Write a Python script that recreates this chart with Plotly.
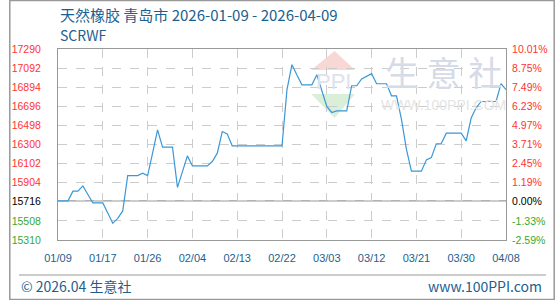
import pandas as pd
import plotly.graph_objects as go

TITLE = "天然橡胶 青岛市 2026-01-09 - 2026-04-09"
SUBTITLE = "SCRWF"
START_DATE = "2026-01-09"
BASE = 15716

PRICES = [
    15716, 15716, 15716, 15816, 15816, 15871, 15780, 15694, 15694, 15694,
    15590, 15483, 15535, 15611, 15978, 15978, 15978, 16002, 15978, 16210,
    16452, 16272, 16272, 16272, 15855, 16020, 16182, 16078, 16078, 16078,
    16078, 16123, 16210, 16434, 16410, 16286, 16286, 16286, 16286, 16286,
    16286, 16286, 16286, 16286, 16286, 16286, 16868, 17127, 17020, 16919,
    16919, 16919, 17023, 16850, 16694, 16632, 16649, 16649, 16649, 16909,
    16909, 16980, 17010, 17034, 16930, 16930, 16930, 16805, 16805, 16560,
    16250, 16023, 16023, 16023, 16141, 16164, 16307, 16310, 16418, 16418,
    16418, 16418, 16338, 16574, 16680, 16746, 16746, 16746, 16746, 16930,
    16868,
]

Y_TICKS = [17290, 17092, 16894, 16696, 16498, 16300, 16102, 15904, 15716, 15508, 15310]
PCT_LABELS = ["10.01%", "8.75%", "7.49%", "6.23%", "4.97%", "3.71%", "2.45%",
              "1.19%", "0.00%", "-1.33%", "-2.59%"]
X_LABELS = ["01/09", "01/17", "01/26", "02/04", "02/13", "02/22", "03/03",
            "03/12", "03/21", "03/30", "04/08"]

RED = "#ff3333"
GREEN = "#33aa33"
BLACK = "#000000"
BLUE_TXT = "#1d5f8e"
LINE = "#3a98d6"
GRID = "#cccccc"
AXIS = "#999999"

dates = pd.date_range(START_DATE, periods=len(PRICES), freq="D")
x_tickvals = list(dates[::9])


def col(v):
    if v > BASE:
        return RED
    if v < BASE:
        return GREEN
    return BLACK


left_text = [f'<span style="color:{col(v)}">{v}</span>' for v in Y_TICKS]
right_text = [f'<span style="color:{col(v)}">{p}</span>' for v, p in zip(Y_TICKS, PCT_LABELS)]

fig = go.Figure()
fig.add_trace(go.Scatter(x=dates, y=PRICES, mode="lines",
                         line=dict(color=LINE, width=1.2),
                         hoverinfo="x+y", showlegend=False))
fig.add_trace(go.Scatter(x=dates, y=PRICES, mode="lines", yaxis="y2",
                         line=dict(color="rgba(0,0,0,0)", width=0),
                         hoverinfo="skip", showlegend=False))

FONT = "Liberation Sans, Arial, sans-serif"
CJK = "Noto Sans CJK SC, Noto Sans, sans-serif"

fig.update_layout(
    width=560, height=300,
    margin=dict(l=50, r=50, t=49, b=60),
    paper_bgcolor="white", plot_bgcolor="white",
    font=dict(family=FONT, size=10.5),
    xaxis=dict(
        type="date", range=[dates[0], dates[-1]],
        tickvals=x_tickvals, ticktext=X_LABELS,
        tickfont=dict(color=BLUE_TXT, size=11, family=FONT),
        showgrid=True, gridcolor=GRID, griddash="dash", gridwidth=1,
        showline=True, linecolor=AXIS, linewidth=1, mirror=True,
        ticks="outside", ticklen=8, tickcolor="rgba(0,0,0,0)",
        zeroline=False,
    ),
    yaxis=dict(
        range=[Y_TICKS[-1], Y_TICKS[0]],
        tickvals=Y_TICKS, ticktext=left_text,
        showgrid=True, gridcolor=GRID, griddash="dash", gridwidth=1,
        showline=True, linecolor=AXIS, linewidth=1, mirror=True,
        ticks="outside", ticklen=14, tickcolor="rgba(0,0,0,0)",
        zeroline=False,
    ),
    yaxis2=dict(
        range=[Y_TICKS[-1], Y_TICKS[0]], overlaying="y", side="right",
        tickvals=Y_TICKS, ticktext=right_text,
        showgrid=False, zeroline=False, showline=False,
        ticks="outside", ticklen=3, tickcolor="rgba(0,0,0,0)",
    ),
    shapes=[
        dict(type="line", xref="paper", x0=0, x1=1, yref="y", y0=BASE, y1=BASE,
             line=dict(color=AXIS, width=1.2), layer="below"),
        # watermark logo
        dict(type="path", xref="paper", yref="paper",
             path="M 0.6174 0.9895 L 0.5652 0.8901 L 0.6630 0.8901 Z",
             fillcolor="#f8d8d4", line=dict(width=0), layer="below"),
        dict(type="path", xref="paper", yref="paper",
             path="M 0.5652 0.7644 L 0.6630 0.7644 L 0.6174 0.6387 Z",
             fillcolor="#d9efd9", line=dict(width=0), layer="below"),
        # footer separator
        dict(type="line", xref="paper", yref="paper",
             x0=-40 / 460, x1=501 / 460, y0=-35 / 191, y1=-35 / 191,
             line=dict(color=AXIS, width=1)),
        # outer border
        dict(type="rect", xref="paper", yref="paper",
             x0=-49.5 / 460, x1=509.5 / 460, y0=-59.5 / 191, y1=239.5 / 191,
             line=dict(color=AXIS, width=1.5)),
    ],
    annotations=[
        dict(text=TITLE, xref="paper", yref="paper", x=0, y=(240 - 15) / 191,
             xanchor="left", yanchor="middle", showarrow=False,
             font=dict(family=CJK, size=15, color=BLUE_TXT)),
        dict(text=SUBTITLE, xref="paper", yref="paper", x=0, y=(240 - 35) / 191,
             xanchor="left", yanchor="middle", showarrow=False,
             font=dict(family=CJK, size=14, color=BLUE_TXT)),
        dict(text="PPI", xref="paper", yref="paper", x=0.6152, y=(240 - 81) / 191,
             xanchor="center", yanchor="middle", showarrow=False,
             font=dict(family=FONT, size=22, color="#dde2ec")),
        dict(text="生 意 社", xref="paper", yref="paper", x=0.8609, y=(240 - 71) / 191,
             xanchor="center", yanchor="middle", showarrow=False,
             font=dict(family=CJK, size=34, color="#d6dbe8")),
        dict(text="WWW.100PPI.COM", xref="paper", yref="paper", x=0.8615, y=(240 - 105) / 191,
             xanchor="center", yanchor="middle", showarrow=False,
             font=dict(family=FONT, size=14, color="#e4e4e4")),
        dict(text="© 2026.04 生意社", xref="paper", yref="paper", x=-40 / 460, y=(240 - 286) / 191,
             xanchor="left", yanchor="middle", showarrow=False,
             font=dict(family=CJK, size=14, color=BLUE_TXT)),
        dict(text="www.100PPI.com", xref="paper", yref="paper", x=499 / 460, y=(240 - 286) / 191,
             xanchor="right", yanchor="middle", showarrow=False,
             font=dict(family=CJK, size=14, color=BLUE_TXT)),
    ],
)

fig.write_html("out.html")
